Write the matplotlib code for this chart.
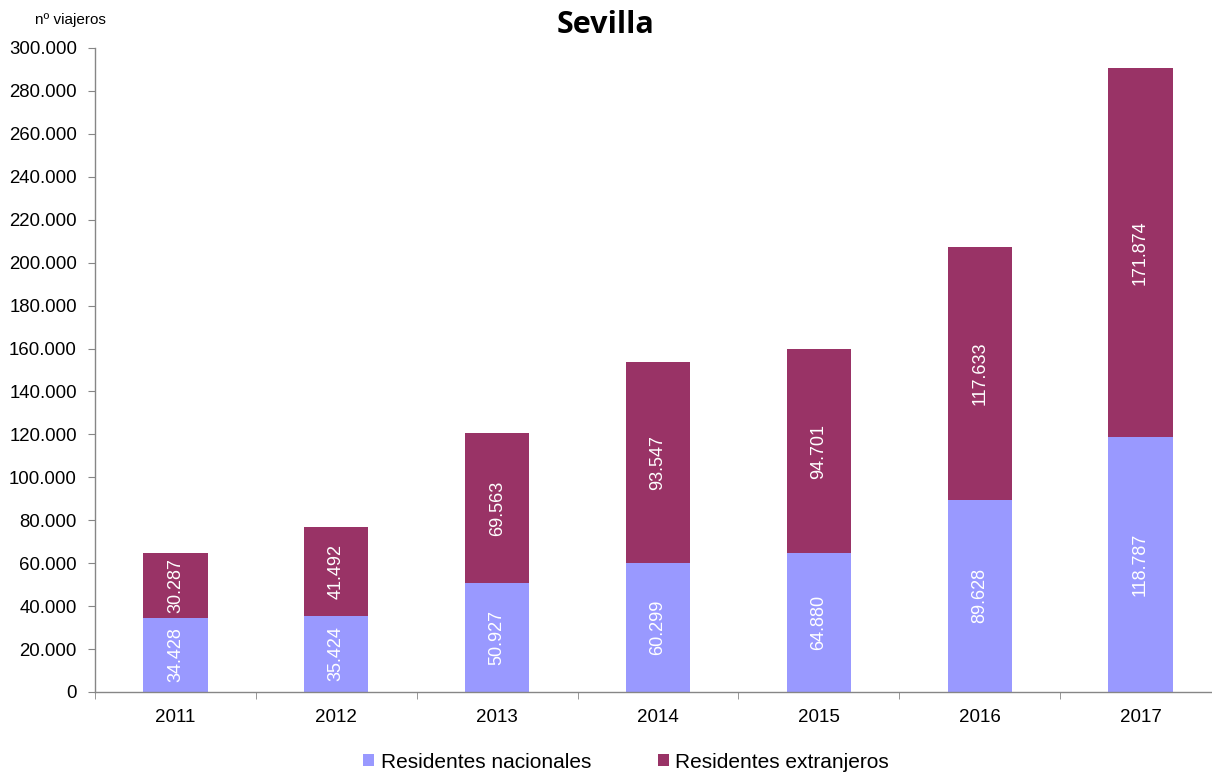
import matplotlib
matplotlib.use("Agg")
import matplotlib.pyplot as plt
from matplotlib.ticker import FuncFormatter, FixedLocator
import numpy as np

years = ["2011", "2012", "2013", "2014", "2015", "2016", "2017"]
nacionales = [34428, 35424, 50927, 60299, 64880, 89628, 118787]
extranjeros = [30287, 41492, 69563, 93547, 94701, 117633, 171874]

c_nac = "#9999FF"
c_ext = "#993366"
axis_col = "#868686"

plt.rcParams["font.family"] = ["Liberation Sans", "DejaVu Sans"]


def miles(v):
    return f"{int(round(v)):,}".replace(",", ".")


fig = plt.figure(figsize=(12.12, 7.73), dpi=100)
ax = fig.add_axes([95 / 1212, 81 / 773, (1221 - 95) / 1212, 644 / 773])

x = np.arange(len(years))
w = 0.40
ax.bar(x, nacionales, width=w, color=c_nac, label="Residentes nacionales", zorder=2)
ax.bar(x, extranjeros, width=w, bottom=nacionales, color=c_ext,
       label="Residentes extranjeros", zorder=2)

for xi, n, e in zip(x, nacionales, extranjeros):
    ax.text(xi, n / 2, miles(n), rotation=90, ha="center", va="center",
            color="white", fontsize=13)
    ax.text(xi, n + e / 2, miles(e), rotation=90, ha="center", va="center",
            color="white", fontsize=13)

ax.set_xlim(-0.5, len(years) - 0.5)
ax.set_ylim(0, 300000)
ax.set_yticks(np.arange(0, 300001, 20000))
ax.yaxis.set_major_formatter(FuncFormatter(lambda v, p: miles(v)))

ax.set_xticks(x)
ax.set_xticklabels(years)
ax.xaxis.set_minor_locator(FixedLocator(np.arange(-0.5, len(years), 1.0)))
ax.tick_params(axis="x", which="major", length=0, pad=12, labelsize=13.5, colors="#000000")
ax.tick_params(axis="x", which="minor", length=5, color=axis_col, direction="out")
ax.tick_params(axis="y", length=5, color=axis_col, direction="out", labelsize=13.4,
               pad=8, labelcolor="#000000")

for s in ["top", "right"]:
    ax.spines[s].set_visible(False)
for s in ["left", "bottom"]:
    ax.spines[s].set_color(axis_col)
    ax.spines[s].set_linewidth(1.0)

fig.text(557 / 1212, 1 - 25 / 773, "Sevilla", fontsize=22, fontweight="bold",
         family=["Open Sans", "DejaVu Sans"], ha="left", va="center")
fig.text(35 / 1212, 1 - 20 / 773, "nº viajeros", fontsize=11, ha="left", va="center")

leg = fig.legend(loc="center", bbox_to_anchor=(626 / 1212, 1 - 762 / 773), ncol=2,
                 frameon=False, fontsize=15, handlelength=0.55, handleheight=0.55,
                 handletextpad=0.3, columnspacing=3.2)

fig.savefig("out.png", dpi=100)
